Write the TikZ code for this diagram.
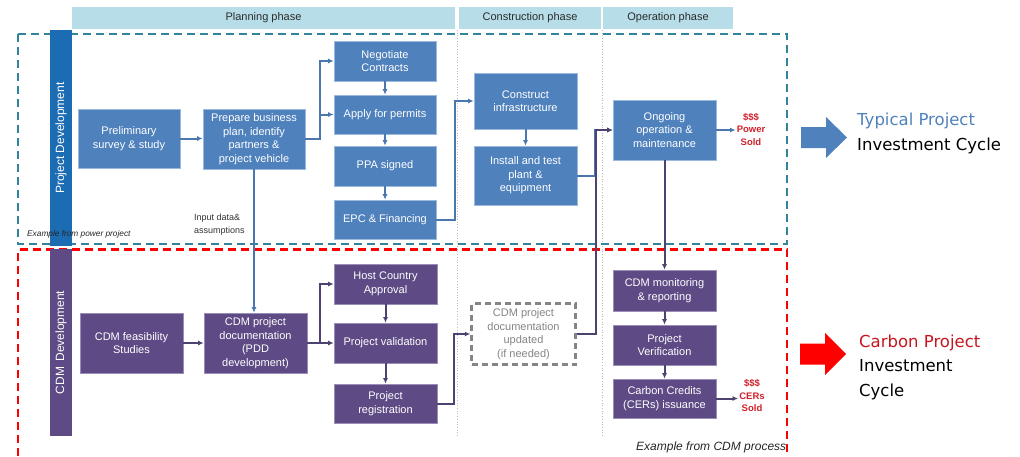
\documentclass[tikz,border=0pt]{standalone}
\usepackage{fontspec}
\setmainfont{Liberation Sans}
\newfontfamily\sidefont{DejaVu Sans}
\usetikzlibrary{arrows.meta}

\definecolor{phasebg}{HTML}{B7DEE8}
\definecolor{phasetxt}{HTML}{2B2B2B}
\definecolor{bfill}{HTML}{4F81BD}
\definecolor{bedge}{HTML}{9BB9DE}
\definecolor{pfill}{HTML}{5E4A84}
\definecolor{pedge}{HTML}{9A8DB8}
\definecolor{barblue}{HTML}{1C6CB4}
\definecolor{barpurple}{HTML}{5E4A84}
\definecolor{teal}{HTML}{31849B}
\definecolor{lineblue}{HTML}{4A78AE}
\definecolor{linepurple}{HTML}{4E4370}
\definecolor{money}{HTML}{D0202A}
\definecolor{tpblue}{HTML}{4F81BD}
\definecolor{cpred}{HTML}{C8141E}
\definecolor{updgray}{HTML}{858585}

\begin{document}
\begin{tikzpicture}[x=1pt,y=-1pt,
  boxtext/.style={align=center, font=\fontsize{11}{13.5}\selectfont, inner sep=2pt},
  bluebox/.style={boxtext, draw=bedge, line width=0.7pt, fill=bfill, text=white},
  purplebox/.style={boxtext, draw=pedge, line width=0.7pt, fill=pfill, text=white},
  updbox/.style={boxtext, draw=updgray, line width=2.4pt, dash pattern=on 6pt off 4pt, text=updgray, fill=white},
  phase/.style={fill=phasebg, text=phasetxt, font=\fontsize{11}{12}\selectfont, inner sep=0pt},
  sidebar/.style={rotate=90, text=white, font=\fontsize{12}{14}\selectfont, inner sep=0pt},
  arrb/.style={draw=lineblue, line width=2pt, -{Latex[length=5.5pt,width=5pt]}},
  arrp/.style={draw=linepurple, line width=2pt, -{Latex[length=5.5pt,width=5pt]}},
  sep/.style={draw=gray!55, line width=0.7pt, dotted},
  money/.style={text=money, font=\bfseries\fontsize{9.5}{12.5}\selectfont, align=center, inner sep=1pt},
  sidetext/.style={anchor=west, align=left, font=\sidefont\fontsize{16.5}{24.5}\selectfont, inner sep=0pt}
]
\useasboundingbox (0,0) rectangle (1020,456);

% phase headers
\node[phase, minimum width=383pt, minimum height=22pt] (hplan) at (263.5,18) {Planning phase};
\node[phase, minimum width=142pt, minimum height=22pt] (hcons) at (530,18) {Construction phase};
\node[phase, minimum width=130pt, minimum height=22pt] (hoper) at (668,18) {Operation phase};

% phase separators
\draw[sep] (457.5,30) -- (457.5,437);
\draw[sep] (602.5,30) -- (602.5,437);

% frames of the two cycles
\draw[teal, line width=2.2pt, dash pattern=on 8pt off 5pt] (18,34) rectangle (787,244);
\draw[red, line width=2.2pt, dash pattern=on 8pt off 5pt] (18,456) -- (18,249.5) -- (787,249.5) -- (787,456);

% side bars
\node[sidebar, fill=barblue, minimum width=216pt, minimum height=22pt] (pdbar) at (61,138) {Project Development};
\node[sidebar, fill=barpurple, minimum width=187pt, minimum height=22pt] (cdmbar) at (61,342.5) {CDM\, Development};

% project development boxes
\node[bluebox, minimum width=102pt, minimum height=59pt] (prelim) at (129,138.5) {Preliminary\\survey \& study};
\node[bluebox, minimum width=102pt, minimum height=60pt] (prep) at (254,139) {Prepare business\\plan, identify\\partners \&\\project vehicle};
\node[bluebox, minimum width=102pt, minimum height=40pt] (nego) at (385,61) {Negotiate\\Contracts};
\node[bluebox, minimum width=102pt, minimum height=39pt] (apply) at (385,114.5) {Apply for permits};
\node[bluebox, minimum width=102pt, minimum height=40pt] (ppa) at (385,166) {PPA signed};
\node[bluebox, minimum width=102pt, minimum height=39pt] (epc) at (385,219.5) {EPC \& Financing};
\node[bluebox, minimum width=103pt, minimum height=56pt] (constr) at (525.5,101) {Construct\\infrastructure};
\node[bluebox, minimum width=103pt, minimum height=59pt] (install) at (525.5,175.5) {Install and test\\plant \&\\equipment};
\node[bluebox, minimum width=103pt, minimum height=60pt] (ongoing) at (664.5,130) {Ongoing\\operation \&\\maintenance};
\node[money] (pwr) at (751,129.5) {\$\$\$\\Power\\Sold};

% CDM development boxes
\node[purplebox, minimum width=103pt, minimum height=60pt] (feas) at (131.5,343) {CDM feasibility\\Studies};
\node[purplebox, minimum width=103pt, minimum height=60pt] (pdd) at (255.5,343) {CDM project\\documentation\\(PDD\\development)};
\node[purplebox, minimum width=103pt, minimum height=40pt] (host) at (385.5,284) {Host Country\\Approval};
\node[purplebox, minimum width=103pt, minimum height=40pt] (valid) at (385.5,343) {Project validation};
\node[purplebox, minimum width=103pt, minimum height=39pt] (reg) at (385.5,403.5) {Project\\registration};
\node[updbox, minimum width=104pt, minimum height=61pt] (upd) at (523.5,334) {CDM project\\documentation\\updated\\(if needed)};
\node[purplebox, minimum width=103pt, minimum height=41pt] (mon) at (664.5,290.5) {CDM monitoring\\\& reporting};
\node[purplebox, minimum width=103pt, minimum height=40pt] (verif) at (664.5,345) {Project\\Verification};
\node[purplebox, minimum width=103pt, minimum height=39pt] (cer) at (664.5,398.5) {Carbon Credits\\(CERs) issuance};
\node[money] (cers) at (752,396) {\$\$\$\\CERs\\Sold};

% labels
\node[anchor=west, align=left, inner sep=0pt, text=black!80, font=\fontsize{9}{13}\selectfont] (inp) at (194,224.5) {Input data\&\\assumptions};
\node[anchor=west, inner sep=0pt, text=black!85, font=\itshape\fontsize{8.3}{10}\selectfont] (expower) at (27,234) {Example from power project};
\node[anchor=west, inner sep=0pt, text=black!85, font=\itshape\fontsize{12}{14}\selectfont] (excdm) at (636,447) {Example from CDM process};

% project development flow
\draw[arrb] (prelim.east) -- (prep.west |- prelim.east);
\draw[arrb] (prep.east) -- ++(15,0) |- (nego.west);
\draw[arrb] (prep.east) -- ++(15,0) |- (apply.west);
\draw[arrb] (nego) -- (apply);
\draw[arrb] (apply) -- (ppa);
\draw[arrb] (ppa) -- (epc);
\draw[arrb] (epc.east) -- ++(19,0) |- (constr.west);
\draw[arrb] (constr) -- (install);
\draw[arrb] (install.east) -- ++(18,0) |- (ongoing.west);
\draw[arrb] (ongoing.east) -- (pwr.west |- ongoing.east);
\draw[arrb] (prep.south) -- (prep.south |- pdd.north);

% CDM flow
\draw[arrp] (feas) -- (pdd);
\draw[arrp] (pdd.east) -- ++(13,0) |- (host.west);
\draw[arrp] (pdd.east) -- (valid.west);
\draw[arrp] (host) -- (valid);
\draw[arrp] (valid) -- (reg);
\draw[arrp] (reg.east) -- ++(17,0) |- (upd.west);
\draw[arrp] (upd.east) -- ++(19,0) |- (ongoing.west);
\draw[arrp] (ongoing.south) -- (mon.north);
\draw[arrp] (mon) -- (verif);
\draw[arrp] (verif) -- (cer);
\draw[arrp] (cer.east) -- (cers.west |- cer.east);

% legend arrows
\fill[tpblue] (801,127) -- (826,127) -- (826,117) -- (847,137.5) -- (826,158) -- (826,148) -- (801,148) -- cycle;
\fill[red] (800,343.5) -- (825,343.5) -- (825,333) -- (846,354) -- (825,375) -- (825,364.5) -- (800,364.5) -- cycle;
\node[sidetext] (typ) at (857,133.5) {\textcolor{tpblue}{Typical Project}\\Investment Cycle};
\node[sidetext] (carb) at (859,367) {\textcolor{cpred}{Carbon Project}\\Investment\\Cycle};
\end{tikzpicture}
\end{document}
